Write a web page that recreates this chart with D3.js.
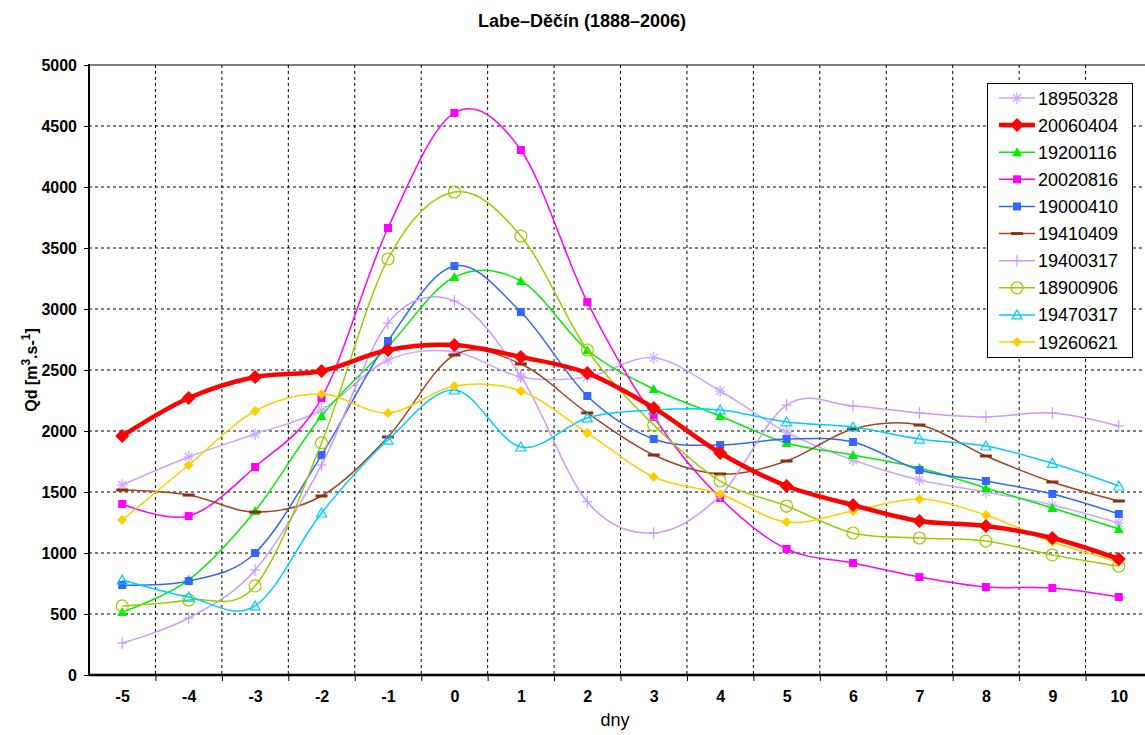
<!DOCTYPE html>
<html>
<head>
<meta charset="utf-8">
<script src="https://cdn.jsdelivr.net/npm/d3@7"></script>
<style>
  body { margin: 0; background: #fff; }
  svg { display: block; font-family: Arial, "Liberation Sans", sans-serif; }
  .grid line { stroke: #000; stroke-dasharray: 3,3; stroke-width: 1; }
  .tickLab text { font-weight: bold; font-size: 16px; fill: #000; }
</style>
</head>
<body>
<div id="chartContainer"></div>
<script>

var days = [-5, -4, -3, -2, -1, 0, 1, 2, 3, 4, 5, 6, 7, 8, 9, 10]
var yTicks = [0, 500, 1000, 1500, 2000, 2500, 3000, 3500, 4000, 4500, 5000]

var names = ['18950328', '20060404', '19200116', '20020816', '19000410',
             '19410409', '19400317', '18900906', '19470317', '19260621']

var q18950328 = [1557, 1787, 1975, 2172, 2582, 2650, 2443, 2443, 2600, 2328, 1990, 1762, 1598, 1500, 1393, 1246]
var q20060404 = [1959, 2270, 2443, 2492, 2664, 2705, 2607, 2475, 2189, 1820, 1549, 1393, 1262, 1222, 1123, 951]
var q19200116 = [516, 780, 1344, 2123, 2690, 3262, 3230, 2664, 2344, 2123, 1902, 1803, 1697, 1533, 1369, 1197]
var q20020816 = [1402, 1303, 1705, 2270, 3664, 4607, 4303, 3057, 2115, 1451, 1033, 918, 803, 721, 713, 639]
var q19000410 = [738, 770, 1000, 1803, 2738, 3352, 2975, 2287, 1934, 1885, 1934, 1910, 1680, 1590, 1484, 1320]
var q19410409 = [1516, 1475, 1336, 1467, 1951, 2623, 2549, 2148, 1803, 1648, 1754, 2016, 2049, 1795, 1582, 1426]
var q19400317 = [262, 467, 861, 1721, 2885, 3066, 2450, 1420, 1164, 1470, 2213, 2205, 2148, 2115, 2148, 2041]
var q18900906 = [566, 615, 730, 1902, 3410, 3959, 3598, 2664, 2049, 1590, 1385, 1164, 1123, 1098, 984, 893]
var q19470317 = [779, 639, 566, 1328, 1926, 2336, 1869, 2107, 2172, 2172, 2074, 2033, 1934, 1877, 1735, 1549]
var q19260621 = [1270, 1721, 2164, 2303, 2148, 2369, 2328, 1984, 1623, 1484, 1254, 1344, 1443, 1311, 1090, 926]

var values = [q18950328, q20060404, q19200116, q20020816, q19000410,
              q19410409, q19400317, q18900906, q19470317, q19260621]

// look of each series (same order as names)
var styles = [
    { color: '#c9a6ff', width: 1.5, marker: 'asterisk' },
    { color: '#ff0000', width: 4.5, marker: 'diamondBig' },
    { color: '#00ee00', width: 1.5, marker: 'triangle' },
    { color: '#ff00ff', width: 1.5, marker: 'square' },
    { color: '#3366ff', width: 1.5, marker: 'square' },
    { color: '#a0461e', width: 1.5, marker: 'dash' },
    { color: '#cc99ff', width: 1.5, marker: 'plus' },
    { color: '#99cc00', width: 1.5, marker: 'circle' },
    { color: '#00ccff', width: 1.5, marker: 'openTriangle' },
    { color: '#ffcc00', width: 1.5, marker: 'diamond' }
]

var width = 1145, height = 735
var plotLeft = 89, plotRight = 1152, plotTop = 65, plotBottom = 675

var svg = d3.select('#chartContainer').append('svg')
    .attr('width', width)
    .attr('height', height)

var xScale = d3.scaleLinear()
    .domain([-5.5, 10.5])
    .range([plotLeft, plotRight])

var yScale = d3.scaleLinear()
    .domain([0, 5000])
    .range([plotBottom, plotTop])

var bounds = days.map(function(d) { return d + 0.5 })

// grid
var grid = svg.append('g').attr('class', 'grid')
grid.selectAll('.hg')
    .data(yTicks.filter(function(d) { return d > 0 && d < 5000 }))
    .enter().append('line')
    .attr('x1', plotLeft).attr('x2', plotRight)
    .attr('y1', function(d) { return yScale(d) })
    .attr('y2', function(d) { return yScale(d) })
grid.selectAll('.vg')
    .data(bounds)
    .enter().append('line')
    .attr('y1', plotTop).attr('y2', plotBottom)
    .attr('x1', function(d) { return xScale(d) })
    .attr('x2', function(d) { return xScale(d) })

svg.append('line')
    .attr('x1', plotLeft).attr('x2', plotRight)
    .attr('y1', plotTop).attr('y2', plotTop)
    .style('stroke', '#000').style('stroke-width', 1)

// axes
var yAxis = svg.append('g')
    .attr('class', 'tickLab')
    .attr('transform', 'translate(' + plotLeft + ',0)')
    .call(d3.axisLeft(yScale).tickValues(yTicks).tickSize(5).tickPadding(7)
        .tickFormat(function(d) { return String(d) }))
yAxis.select('.domain').remove()
yAxis.selectAll('.tick line').style('stroke', '#000')

var xLabels = svg.append('g')
    .attr('class', 'tickLab')
    .attr('transform', 'translate(0,' + plotBottom + ')')
    .call(d3.axisBottom(xScale).tickValues(days).tickSize(0).tickPadding(16)
        .tickFormat(function(d) { return String(d) }))
xLabels.select('.domain').remove()

var xMarks = svg.append('g')
    .attr('transform', 'translate(0,' + plotBottom + ')')
    .call(d3.axisBottom(xScale).tickValues(bounds).tickSize(6).tickFormat(''))
xMarks.select('.domain').remove()
xMarks.selectAll('.tick line').style('stroke', '#000')

svg.append('line')
    .attr('x1', plotLeft).attr('x2', plotLeft)
    .attr('y1', plotTop - 1).attr('y2', plotBottom + 1)
    .style('stroke', '#000').style('stroke-width', 2)
svg.append('line')
    .attr('x1', plotLeft).attr('x2', plotRight)
    .attr('y1', plotBottom).attr('y2', plotBottom)
    .style('stroke', '#000').style('stroke-width', 2.5)

// markers
function drawMarker(g, type, color, x, y) {
    if (type == 'asterisk' || type == 'plus') {
        var r = 5
        g.append('line').attr('x1', x - r).attr('x2', x + r).attr('y1', y).attr('y2', y)
            .style('stroke', color).style('stroke-width', 1.2)
        g.append('line').attr('x1', x).attr('x2', x).attr('y1', y - r - 1).attr('y2', y + r + 1)
            .style('stroke', color).style('stroke-width', 1.2)
        if (type == 'asterisk') {
            g.append('line').attr('x1', x - 4).attr('x2', x + 4).attr('y1', y - 4).attr('y2', y + 4)
                .style('stroke', color).style('stroke-width', 1.2)
            g.append('line').attr('x1', x - 4).attr('x2', x + 4).attr('y1', y + 4).attr('y2', y - 4)
                .style('stroke', color).style('stroke-width', 1.2)
        }
    } else if (type == 'diamondBig' || type == 'diamond') {
        var s = type == 'diamondBig' ? 7 : 5
        g.append('path')
            .attr('d', 'M' + x + ',' + (y - s) + 'L' + (x + s) + ',' + y + 'L' + x + ',' + (y + s) + 'L' + (x - s) + ',' + y + 'Z')
            .style('fill', color)
    } else if (type == 'square') {
        g.append('rect').attr('x', x - 4).attr('y', y - 4).attr('width', 8).attr('height', 8)
            .style('fill', color)
    } else if (type == 'triangle' || type == 'openTriangle') {
        var t = g.append('path')
            .attr('d', 'M' + x + ',' + (y - 5) + 'L' + (x + 5) + ',' + (y + 4) + 'L' + (x - 5) + ',' + (y + 4) + 'Z')
        if (type == 'triangle') t.style('fill', color)
        else t.style('fill', 'none').style('stroke', color).style('stroke-width', 1.2)
    } else if (type == 'circle') {
        g.append('circle').attr('cx', x).attr('cy', y).attr('r', 6)
            .style('fill', 'none').style('stroke', color).style('stroke-width', 1.2)
    } else if (type == 'dash') {
        g.append('rect').attr('x', x - 6).attr('y', y - 1.5).attr('width', 12).attr('height', 3)
            .style('fill', '#8b3010')
    }
}

var line = d3.line()
    .x(function(d, i) { return xScale(days[i]) })
    .y(function(d) { return yScale(d) })
    .curve(d3.curveCardinal.tension(0))

// draw order: red last so it sits on top
var order = [0, 2, 3, 4, 5, 6, 7, 8, 9, 1]
var seriesG = svg.append('g').attr('class', 'series')
order.forEach(function(k) {
    var g = seriesG.append('g')
    g.append('path')
        .attr('d', line(values[k]))
        .style('fill', 'none')
        .style('stroke', styles[k].color)
        .style('stroke-width', styles[k].width)
    values[k].forEach(function(v, i) {
        drawMarker(g, styles[k].marker, styles[k].color, xScale(days[i]), yScale(v))
    })
})

// legend
var legend = svg.append('g').attr('class', 'legend')
legend.append('rect')
    .attr('x', 987.5).attr('y', 83.5).attr('width', 145).attr('height', 274)
    .style('fill', '#fff').style('stroke', '#000').style('stroke-width', 1)

var legendY = d3.scaleLinear().domain([0, 9]).range([98, 342])
names.forEach(function(n, k) {
    var ly = legendY(k)
    var g = legend.append('g')
    g.append('line')
        .attr('x1', 999).attr('x2', 1035).attr('y1', ly).attr('y2', ly)
        .style('stroke', styles[k].color).style('stroke-width', styles[k].width)
    drawMarker(g, styles[k].marker, styles[k].color, 1017, ly)
    g.append('text')
        .attr('x', 1038).attr('y', ly + 6.5)
        .style('font-size', '18px')
        .text(n)
})

// titles
svg.append('text')
    .attr('x', 582).attr('y', 27)
    .attr('text-anchor', 'middle')
    .style('font-size', '18px').style('font-weight', 'bold')
    .text('Labe–Děčín (1888–2006)')

svg.append('text')
    .attr('x', 615).attr('y', 726)
    .attr('text-anchor', 'middle')
    .style('font-size', '18px')
    .text('dny')

var yTitle = svg.append('text')
    .attr('transform', 'translate(37,370) rotate(-90)')
    .attr('text-anchor', 'middle')
    .style('font-size', '16px').style('font-weight', 'bold')
yTitle.append('tspan').text('Qd [m')
yTitle.append('tspan').attr('dy', -7).style('font-size', '12px').text('3')
yTitle.append('tspan').attr('dy', 7).text('.s-')
yTitle.append('tspan').attr('dy', -7).style('font-size', '12px').text('1')
yTitle.append('tspan').attr('dy', 7).text(']')

</script>
</body>
</html>
